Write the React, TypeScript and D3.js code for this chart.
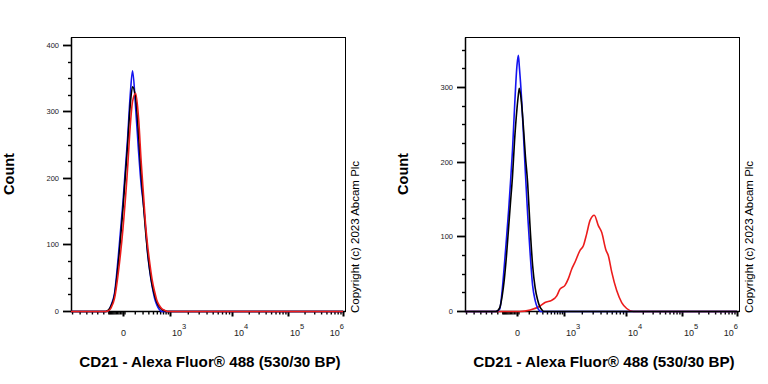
import React, { useRef, useEffect } from 'react';
import * as d3 from 'd3';

const leftBins = [-1050, -250, -200, -150, -120, -90, -60, -30, 0, 33, 55, 77, 110, 145, 180, 215, 250, 285, 330, 380, 440, 500, 575, 660, 755, 870, 995, 1120, 1270, 1e6];
const leftBlue = [0, 0, 0, 0, 1, 10, 28, 85, 165, 260, 325, 362, 305, 240, 190, 160, 125, 88, 60, 38, 20, 10, 3, 0, 0, 0, 0, 0, 0, 0];
const leftBlack = [0, 0, 0, 0, 2, 9, 25, 75, 155, 250, 310, 338, 320, 265, 205, 160, 120, 90, 62, 40, 24, 14, 7, 3, 1, 0, 0, 0, 0, 0];
const leftRed = [0, 0, 0, 0, 1, 6, 20, 60, 125, 215, 278, 316, 328, 290, 225, 175, 130, 100, 72, 48, 30, 17, 9, 4, 2, 0, 0, 0, 0, 0];

const rightBins = [-1050, -250, -200, -150, -120, -100, -80, -60, -45, -30, -15, 0, 9, 16, 33, 49, 66, 88, 111, 145, 179, 215, 250, 284, 331, 1e6];
const rightBlue = [0, 0, 0, 3, 30, 60, 95, 135, 172, 215, 275, 330, 343, 328, 285, 235, 185, 130, 85, 35, 15, 5, 1, 0, 0, 0];
const rightBlack = [0, 0, 0, 5, 22, 42, 72, 112, 145, 180, 230, 272, 290, 299, 278, 245, 208, 172, 120, 62, 32, 16, 7, 3, 0, 0];
const rightRedBins = [-1050, 0, 20, 115, 255, 355, 525, 690, 815, 1040, 1190, 1360, 1540, 1870, 2120, 2400, 2720, 3180, 3690, 4170, 4880, 5300, 5990, 7170, 8580, 10300, 13500, 1e6];
const rightRed = [0, 0, 0, 2, 7, 12, 15, 21, 30, 35, 44, 57, 66, 82, 88, 104, 122, 129, 115, 106, 82, 75, 53, 28, 12, 4, 0, 0];

// axes
const xMajorTicks = [0, 1e3, 1e4, 1e5, 1e6];
const xMajorExponents = ['', '3', '4', '5', '6'];
const xMinorTicks = [
  -1000, -700, -500, -370, -270, -180,
  -120, -110, -100, -90, -80, -70, -60, -50, -40, -30, -20, -10, 10,
  100, 200, 300, 400, 500, 600, 700, 800, 900,
  2e3, 3e3, 4e3, 5e3, 6e3, 7e3, 8e3, 9e3,
  2e4, 3e4, 4e4, 5e4, 6e4, 7e4, 8e4, 9e4,
  2e5, 3e5, 4e5, 5e5, 6e5, 7e5, 8e5, 9e5,
];
const leftYTicks = [0, 100, 200, 300, 400];
const rightYTicks = [0, 100, 200, 300];

const xTitle = 'CD21 - Alexa Fluor® 488 (530/30 BP)';
const yTitle = 'Count';
const copyright = 'Copyright (c) 2023 Abcam Plc';

// biexponential-like display: calibration of the axis
const xDomain = [-1050, 0, 1e3, 1e4, 1e5, 1e6];
const xRange = [0, 52, 99, 161, 217, 272];

const PW = 274;
const PH = 274;
const TOP = 37;
const FONT = '"Liberation Sans", Arial, Helvetica, sans-serif';
const BLUE = '#1414f0';
const RED = '#ec1c1c';
const BLACK = '#000';

const panels = [
  {
    left: 71,
    yMax: 412,
    yTicks: leftYTicks,
    series: [
      { bins: leftBins, counts: leftBlue, color: BLUE },
      { bins: leftBins, counts: leftBlack, color: BLACK },
      { bins: leftBins, counts: leftRed, color: RED },
    ],
  },
  {
    left: 465,
    yMax: 367,
    yTicks: rightYTicks,
    series: [
      { bins: rightRedBins, counts: rightRed, color: RED },
      { bins: rightBins, counts: rightBlue, color: BLUE },
      { bins: rightBins, counts: rightBlack, color: BLACK },
    ],
  },
];

function Panel({ cfg }: { cfg: any }) {
  const ref = useRef<SVGGElement>(null);

  useEffect(() => {
    const g = d3.select(ref.current);
    g.selectAll('*').remove();

    const x = d3.scaleSymlog().constant(150).domain(xDomain).range(xRange);
    const y = d3.scaleLinear().domain([0, cfg.yMax]).range([PH, 0]);

    const ticks = g.append('g').attr('stroke', '#000').attr('stroke-width', 1.4);

    // y axis ticks: majors every 100, minors every 25
    const yMinor = d3.range(25, cfg.yMax, 25).filter((v) => v % 100 !== 0);
    ticks.selectAll('line.ymin')
      .data(yMinor)
      .join('line')
      .attr('class', 'ymin')
      .attr('x1', -3)
      .attr('x2', 0)
      .attr('y1', (d) => Math.round(y(d)) + 0.5)
      .attr('y2', (d) => Math.round(y(d)) + 0.5);
    ticks.selectAll('line.ymaj')
      .data(cfg.yTicks)
      .join('line')
      .attr('class', 'ymaj')
      .attr('x1', -8)
      .attr('x2', 0)
      .attr('y1', (d: any) => Math.round(y(d)) + 0.5)
      .attr('y2', (d: any) => Math.round(y(d)) + 0.5)
      .attr('stroke-width', 1.8);
    g.append('g')
      .selectAll('text')
      .data(cfg.yTicks)
      .join('text')
      .attr('x', -12)
      .attr('y', (d: any) => y(d) + 3)
      .attr('text-anchor', 'end')
      .attr('font-family', FONT)
      .attr('font-size', 7.5)
      .attr('fill', '#222')
      .text((d: any) => d);

    // x axis ticks
    ticks.selectAll('line.xmin')
      .data(xMinorTicks)
      .join('line')
      .attr('class', 'xmin')
      .attr('x1', (d) => x(d) + 0.5)
      .attr('x2', (d) => x(d) + 0.5)
      .attr('y1', PH)
      .attr('y2', PH + 3.5);
    ticks.selectAll('line.xmaj')
      .data(xMajorTicks)
      .join('line')
      .attr('class', 'xmaj')
      .attr('x1', (d) => x(d) + 0.5)
      .attr('x2', (d) => x(d) + 0.5)
      .attr('y1', PH)
      .attr('y2', PH + 5.5)
      .attr('stroke-width', 2);

    xMajorTicks.forEach((v, i) => {
      const t = g.append('text')
        .attr('y', PH + 24.5)
        .attr('font-family', FONT)
        .attr('font-size', 9)
        .attr('fill', '#222');
      if (xMajorExponents[i] === '') {
        t.attr('x', x(v) + 0.5).attr('text-anchor', 'middle').text('0');
      } else {
        const last = i === xMajorTicks.length - 1;
        t.attr('x', last ? x(v) + 1 : x(v) + 2).attr('text-anchor', last ? 'end' : 'start');
        t.append('tspan').text('10');
        t.append('tspan').attr('dy', -7).attr('font-size', 7.5).text(xMajorExponents[i]);
      }
    });

    // frame, with a slightly heavier left and bottom axis line
    g.append('rect')
      .attr('x', 0.5)
      .attr('y', 0.5)
      .attr('width', PW)
      .attr('height', PH)
      .attr('fill', 'none')
      .attr('stroke', '#000')
      .attr('stroke-width', 1);
    g.append('path')
      .attr('d', `M0.5,0.5V${PH + 0.5}H${PW + 0.5}`)
      .attr('fill', 'none')
      .attr('stroke', '#000')
      .attr('stroke-width', 1.5);

    // histograms
    const histLine = d3.line<any>()
      .x((d) => x(d[0]))
      .y((d) => y(d[1]) + 0.5)
      .curve(d3.curveMonotoneX);

    cfg.series.forEach((s: any) => {
      g.append('path')
        .datum(d3.zip(s.bins, s.counts))
        .attr('d', histLine)
        .attr('fill', 'none')
        .attr('stroke', s.color)
        .attr('stroke-width', 1.6)
        .attr('stroke-linejoin', 'round');
    });
  }, [cfg]);

  return <g ref={ref} transform={`translate(${cfg.left},${TOP})`} />;
}

export default function App() {
  return (
    <svg
      width={768}
      height={384}
      style={{ position: 'absolute', left: 0, top: 0, background: '#fff' }}
    >
      <rect width={768} height={384} fill="#fff" />
      {panels.map((p, i) => (
        <Panel key={i} cfg={p} />
      ))}
      {panels.map((p, i) => (
        <g key={'t' + i}>
          <text
            transform={`translate(${p.left - 57.5},174) rotate(-90)`}
            textAnchor="middle"
            fontFamily={FONT}
            fontWeight="bold"
            fontSize={14.5}
          >
            {yTitle}
          </text>
          <text
            x={p.left + 139}
            y={367}
            textAnchor="middle"
            fontFamily={FONT}
            fontWeight="bold"
            fontSize={15.2}
          >
            {xTitle}
          </text>
          <text
            transform={`translate(${p.left + PW + 14},313) rotate(-90)`}
            fontFamily={FONT}
            fontSize={11.5}
          >
            {copyright}
          </text>
        </g>
      ))}
    </svg>
  );
}
